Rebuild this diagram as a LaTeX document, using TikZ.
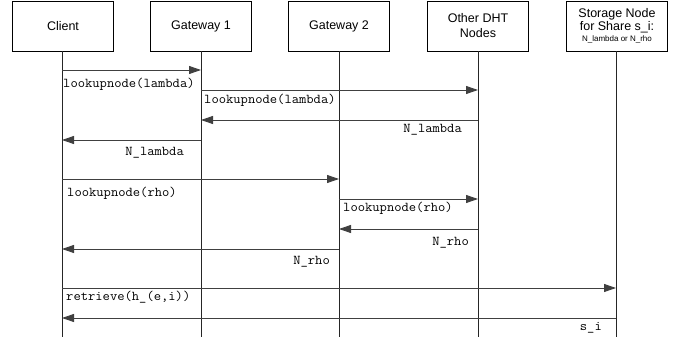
\documentclass[tikz,border=0pt]{standalone}
\usepackage{fontspec}
\setmainfont{Liberation Sans}
\newfontfamily\msgfont[FakeStretch=1.05]{Latin Modern Mono}
\usetikzlibrary{arrows.meta}

\tikzset{
  actor/.style={draw=black, line width=0.9pt, minimum width=101pt, minimum height=50pt,
    inner sep=0pt, align=center, font=\fontsize{12.5}{15}\selectfont},
  lifeline/.style={draw=black!85, line width=1pt},
  msg/.style={draw=black!75, line width=0.9pt, -{Triangle[length=12pt,width=8pt]}},
  msglabel/.style={anchor=base west, inner sep=0pt, font=\msgfont\fontsize{13.5}{15}\selectfont},
  msglabelr/.style={anchor=base east, inner sep=0pt, font=\msgfont\fontsize{13.5}{15}\selectfont}
}

\begin{document}
\begin{tikzpicture}[x=1pt, y=-1pt]
  \useasboundingbox (0,0) rectangle (680,342);

  % participants
  \node[actor] (client) at (63,26) {Client};
  \node[actor] (gw1)    at (201,26) {Gateway 1};
  \node[actor] (gw2)    at (339,26) {Gateway 2};
  \node[actor] (dht)    at (478,26) {Other DHT\\Nodes};
  \node[actor, font=\fontsize{12.5}{13}\selectfont] (store) at (617,26)
    {Storage Node\\for Share s\_i:\\[-2pt]{\fontsize{8}{8}\selectfont N\_lambda or N\_rho}};

  % lifeline ends
  \coordinate (clientE) at (62,337);
  \coordinate (gw1E)    at (201,337);
  \coordinate (gw2E)    at (339,337);
  \coordinate (dhtE)    at (478,337);
  \coordinate (storeE)  at (616,337);

  \draw[lifeline] (client.south -| clientE) -- (clientE);
  \draw[lifeline] (gw1.south -| gw1E) -- (gw1E);
  \draw[lifeline] (gw2.south -| gw2E) -- (gw2E);
  \draw[lifeline] (dht.south -| dhtE) -- (dhtE);
  \draw[lifeline] (store.south -| storeE) -- (storeE);

  % lookup of lambda
  \draw[msg] (clientE |- 0,70) -- (gw1E |- 0,70);
  \node[msglabel] (m1) at (63,87.5) {lookupnode(lambda)};
  \draw[msg] (gw1E |- 0,90) -- (dhtE |- 0,90);
  \node[msglabel] (m2) at (204,103.5) {lookupnode(lambda)};
  \draw[msg] (dhtE |- 0,120) -- (gw1E |- 0,120);
  \node[msglabelr] (m3) at (462,132.5) {N\_lambda};
  \draw[msg] (gw1E |- 0,140) -- (clientE |- 0,140);
  \node[msglabelr] (m4) at (184,155.5) {N\_lambda};

  % lookup of rho
  \draw[msg] (clientE |- 0,179) -- (gw2E |- 0,179);
  \node[msglabel] (m5) at (67,196.5) {lookupnode(rho)};
  \draw[msg] (gw2E |- 0,199) -- (dhtE |- 0,199);
  \node[msglabel] (m6) at (343,211) {lookupnode(rho)};
  \draw[msg] (dhtE |- 0,229) -- (gw2E |- 0,229);
  \node[msglabelr] (m7) at (469,245.5) {N\_rho};
  \draw[msg] (gw2E |- 0,249) -- (clientE |- 0,249);
  \node[msglabelr] (m8) at (330,264.5) {N\_rho};

  % retrieval of the share
  \draw[msg] (clientE |- 0,288) -- (storeE |- 0,288);
  \node[msglabel] (m9) at (66,300.5) {retrieve(h\_(e,i))};
  \draw[msg] (storeE |- 0,318) -- (clientE |- 0,318);
  \node[msglabelr] (m10) at (602,330) {s\_i};
\end{tikzpicture}
\end{document}
